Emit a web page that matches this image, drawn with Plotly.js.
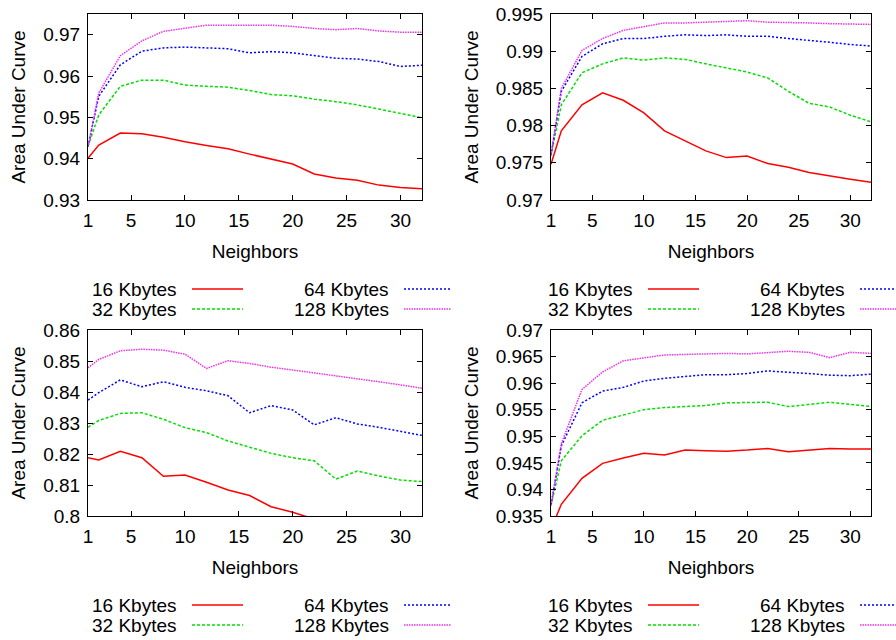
<!DOCTYPE html>
<html>
<head>
<meta charset="utf-8">
<script src="https://cdn.plot.ly/plotly-3.0.1.min.js"></script>
<style>html,body{margin:0;padding:0;background:#fff}#chart{width:896px;height:640px}</style>
</head>
<body>
<div id="chart"></div>
<script>
// ---- data ----
const neighbors = [1,2,4,6,8,10,12,14,16,18,20,22,24,26,28,30,32];
const seriesNames = ['16 Kbytes','32 Kbytes','64 Kbytes','128 Kbytes'];
const xTickVals = [1,5,10,15,20,25,30];

// top-left panel
const a16  = [0.9401,0.9433,0.9462,0.9460,0.9452,0.9441,0.9432,0.9424,0.9411,0.9399,0.9387,0.9363,0.9353,0.9348,0.9336,0.9330,0.9327];
const a32  = [0.9430,0.9506,0.9575,0.9590,0.9590,0.9578,0.9575,0.9573,0.9565,0.9555,0.9552,0.9544,0.9538,0.9530,0.9520,0.9510,0.9499];
const a64  = [0.9429,0.9551,0.9627,0.9660,0.9668,0.9670,0.9668,0.9666,0.9656,0.9659,0.9656,0.9650,0.9643,0.9641,0.9635,0.9623,0.9626];
const a128 = [0.9429,0.9559,0.9649,0.9685,0.9708,0.9715,0.9723,0.9723,0.9723,0.9723,0.9720,0.9715,0.9712,0.9715,0.9709,0.9706,0.9706];
const aTicks = [0.93,0.94,0.95,0.96,0.97];
const aTickText = ['0.93','0.94','0.95','0.96','0.97'];

// top-right panel
const b16  = [0.9748,0.9793,0.9828,0.9844,0.9834,0.9817,0.9793,0.9780,0.9766,0.9757,0.9759,0.9749,0.9744,0.9737,0.9732,0.9728,0.9724];
const b32  = [0.9760,0.9828,0.9871,0.9883,0.9891,0.9888,0.9891,0.9889,0.9883,0.9877,0.9872,0.9864,0.9846,0.9830,0.9825,0.9814,0.9805];
const b64  = [0.9760,0.9846,0.9893,0.9910,0.9917,0.9917,0.9920,0.9922,0.9921,0.9922,0.9920,0.9920,0.9917,0.9915,0.9912,0.9909,0.9907];
const b128 = [0.9760,0.9850,0.9901,0.9917,0.9928,0.9933,0.9938,0.9938,0.9939,0.9939,0.9941,0.9939,0.9938,0.9938,0.9937,0.9937,0.9936];
const bTicks = [0.97,0.975,0.98,0.985,0.99,0.995];
const bTickText = ['0.97','0.975','0.98','0.985','0.99','0.995'];

// bottom-left panel
const c16  = [0.8188,0.8181,0.8209,0.8188,0.8128,0.8132,0.8109,0.8084,0.8066,0.8030,0.8012,0.7990,0.7975,0.7965,0.7955,0.7945,0.7935];
const c32  = [0.8286,0.8308,0.8331,0.8333,0.8312,0.8285,0.8269,0.8242,0.8222,0.8202,0.8188,0.8178,0.8119,0.8145,0.8129,0.8116,0.8111];
const c64  = [0.8374,0.8398,0.8439,0.8417,0.8433,0.8415,0.8404,0.8388,0.8333,0.8356,0.8342,0.8294,0.8317,0.8297,0.8286,0.8272,0.8260];
const c128 = [0.8478,0.8505,0.8533,0.8538,0.8535,0.8522,0.8476,0.8501,0.8492,0.8480,0.8471,0.8462,0.8452,0.8444,0.8433,0.8423,0.8412];
const cTicks = [0.80,0.81,0.82,0.83,0.84,0.85,0.86];
const cTickText = ['0.8','0.81','0.82','0.83','0.84','0.85','0.86'];

// bottom-right panel
const d16  = [0.9325,0.9372,0.9421,0.9449,0.9459,0.9468,0.9465,0.9474,0.9473,0.9472,0.9474,0.9477,0.9471,0.9474,0.9477,0.9476,0.9476];
const d32  = [0.9370,0.9454,0.9501,0.9530,0.9540,0.9550,0.9554,0.9556,0.9558,0.9563,0.9564,0.9564,0.9556,0.9560,0.9564,0.9560,0.9556];
const d64  = [0.9370,0.9482,0.9563,0.9585,0.9592,0.9604,0.9609,0.9613,0.9616,0.9616,0.9618,0.9623,0.9621,0.9618,0.9615,0.9614,0.9617];
const d128 = [0.9370,0.9486,0.9588,0.9621,0.9642,0.9648,0.9653,0.9654,0.9655,0.9656,0.9655,0.9658,0.9660,0.9658,0.9648,0.9658,0.9656];
const dTicks = [0.935,0.94,0.945,0.95,0.955,0.96,0.965,0.97];
const dTickText = ['0.935','0.94','0.945','0.95','0.955','0.96','0.965','0.97'];

// ---- layout / styling ----
const W = 896, H = 640;
const FONT = 'Liberation Sans, Arial, sans-serif';
const FS = 19;
const px = v => v / W;
const py = v => 1 - v / H;

const styles = [
  {color:'#ff0000', dash:'solid', width:1.5},
  {color:'#00e000', dash:'3px,2px', width:1.5},
  {color:'#0000ff', dash:'2px,2px', width:1.5},
  {color:'#f030f0', dash:'1.5px,1px', width:1.5}
];

const panels = [
  {ax:'', series:[a16,a32,a64,a128], xpx:[88,422], ypx:[14,200], yr:[0.93,0.975], tv:aTicks, tt:aTickText,
   leg:{c1:179, l1:[192,243], c2:391, l2:[404,451], rows:[289,309]}},
  {ax:'2', series:[b16,b32,b64,b128], xpx:[551,871], ypx:[14,200], yr:[0.97,0.995], tv:bTicks, tt:bTickText,
   leg:{c1:635, l1:[648,699], c2:847, l2:[860,911], rows:[289,309]}},
  {ax:'3', series:[c16,c32,c64,c128], xpx:[88,422], ypx:[330,516], yr:[0.80,0.86], tv:cTicks, tt:cTickText,
   leg:{c1:179, l1:[192,243], c2:391, l2:[404,451], rows:[605,625]}},
  {ax:'4', series:[d16,d32,d64,d128], xpx:[551,871], ypx:[330,516], yr:[0.935,0.97], tv:dTicks, tt:dTickText,
   leg:{c1:635, l1:[648,699], c2:847, l2:[860,911], rows:[605,625]}}
];

const traces = [];
const layout = {
  width: W, height: H,
  margin: {l:0, r:0, t:0, b:0},
  paper_bgcolor: '#fff', plot_bgcolor: '#fff',
  showlegend: false,
  font: {family: FONT, size: FS, color: '#000'},
  annotations: [], shapes: []
};

const axisCommon = {
  showline: true, mirror: 'ticks', linecolor: '#000', linewidth: 1,
  ticks: 'inside', ticklen: 5, tickwidth: 1, tickcolor: '#000',
  showgrid: false, zeroline: false, fixedrange: true,
  ticklabelstandoff: 3,
  tickfont: {family: FONT, size: FS, color: '#000'}
};

panels.forEach(p => {
  const xk = 'xaxis' + p.ax, yk = 'yaxis' + p.ax;
  const xr = 'x' + p.ax, yr = 'y' + p.ax;
  p.series.forEach((s, i) => {
    traces.push({
      x: neighbors, y: s, type: 'scatter', mode: 'lines', name: seriesNames[i],
      xaxis: xr, yaxis: yr, hoverinfo: 'skip',
      line: {color: styles[i].color, dash: styles[i].dash, width: styles[i].width}
    });
  });
  layout[xk] = Object.assign({}, axisCommon, {
    domain: [px(p.xpx[0]), px(p.xpx[1])], anchor: yr, range: [1, 32],
    tickmode: 'array', tickvals: xTickVals, ticktext: xTickVals.map(String),
    title: {text: 'Neighbors', font: {family: FONT, size: FS, color: '#000'}, standoff: 14}
  });
  layout[yk] = Object.assign({}, axisCommon, {
    domain: [py(p.ypx[1]), py(p.ypx[0])], anchor: xr, range: p.yr,
    tickmode: 'array', tickvals: p.tv, ticktext: p.tt,
    title: {text: 'Area Under Curve', font: {family: FONT, size: FS, color: '#000'}, standoff: 12}
  });
  // gnuplot-style key below each panel
  const L = p.leg;
  const slots = [
    {tx:L.c1, ln:L.l1, ry:L.rows[0]},
    {tx:L.c1, ln:L.l1, ry:L.rows[1]},
    {tx:L.c2, ln:L.l2, ry:L.rows[0]},
    {tx:L.c2, ln:L.l2, ry:L.rows[1]}
  ];
  slots.forEach((s, i) => {
    layout.annotations.push({
      xref:'paper', yref:'paper', x: px(s.tx), y: py(s.ry), xanchor:'right', yanchor:'middle',
      text: seriesNames[i], showarrow:false, font:{family: FONT, size: FS, color:'#000'}
    });
    layout.shapes.push({
      type:'line', xref:'paper', yref:'paper', x0: px(s.ln[0]), x1: px(s.ln[1]), y0: py(s.ry), y1: py(s.ry),
      line:{color: styles[i].color, dash: styles[i].dash, width: styles[i].width}
    });
  });
});

Plotly.newPlot('chart', traces, layout, {displayModeBar:false, staticPlot:true});
</script>
</body>
</html>
